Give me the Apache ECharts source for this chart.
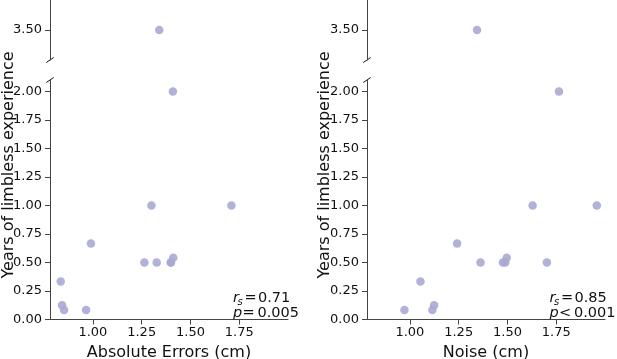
<!DOCTYPE html>
<html>
<head>
<meta charset="utf-8">
<script src="https://cdn.jsdelivr.net/npm/echarts@6/dist/echarts.min.js"></script>
<style>
html, body { margin: 0; background: #fff; }
#main { width: 617px; height: 359px; }
</style>
</head>
<body>
<div id="main"></div>
<script>
// data
var years   = [3.5, 2.0, 1.0, 1.0, 0.667, 0.5, 0.5, 0.5, 0.5, 0.542, 0.333, 0.125, 0.083, 0.083];
var absErr  = [1.34, 1.41, 1.30, 1.71, 0.99, 1.264, 1.327, 1.399, 1.40, 1.412, 0.835, 0.842, 0.852, 0.965];
var noise   = [1.344, 1.764, 1.629, 1.958, 1.242, 1.362, 1.477, 1.489, 1.702, 1.496, 1.054, 1.124, 0.972, 1.115];
var xTicks     = [1.00, 1.25, 1.50, 1.75];
var yTicksLow  = [0, 0.25, 0.5, 0.75, 1.0, 1.25, 1.5, 1.75, 2.0];
var yTicksHigh = [3.5];
var stats = [
    { rs: '0.71', op: '=', p: '0.005' },
    { rs: '0.85', op: '<', p: '0.001' }
];

var axisColor = '#444';
var font = 'DejaVu Sans';
var dotColor = '#aaa9d4';

function pts(xs, high) {
    var out = [];
    for (var i = 0; i < years.length; i++) {
        if ((years[i] > 3) === high) out.push([xs[i], years[i]]);
    }
    return out;
}

function xAx(idx, show, name) {
    return {
        type: 'value', gridIndex: idx, min: 0.78, max: 2.0, show: show,
        name: name, nameLocation: 'middle', nameGap: 17,
        nameTextStyle: { fontFamily: font, fontSize: 16, color: '#111' },
        axisLine: { onZero: false, lineStyle: { color: axisColor, width: 1 } },
        axisTick: { length: 5, lineStyle: { color: axisColor }, customValues: xTicks },
        axisLabel: { customValues: xTicks, margin: 7, fontFamily: font, fontSize: 13, color: '#111',
            formatter: function (v) { return v.toFixed(2); } },
        splitLine: { show: false }
    };
}

function yAx(idx, min, max, ticks) {
    return {
        type: 'value', gridIndex: idx, min: min, max: max,
        axisLine: { show: true, lineStyle: { color: axisColor, width: 1 } },
        axisTick: { show: true, length: 5, lineStyle: { color: axisColor }, customValues: ticks },
        axisLabel: { customValues: ticks, margin: 8, fontFamily: font, fontSize: 13, color: '#111',
            formatter: function (v) { return v.toFixed(2); } },
        splitLine: { show: false }
    };
}

function dots(idx, data) {
    return {
        type: 'scatter', xAxisIndex: idx, yAxisIndex: idx, data: data,
        symbolSize: 8.5, itemStyle: { color: dotColor, opacity: 0.9 }, silent: true
    };
}

var myChart = echarts.init(document.getElementById('main'));
myChart.setOption({
    animation: false,
    grid: [
        { left: 50, top: 0, width: 238, height: 60, outerBoundsMode: 'none' },
        { left: 50, top: 80, width: 238, height: 239.5, outerBoundsMode: 'none' },
        { left: 367, top: 0, width: 238, height: 60, outerBoundsMode: 'none' },
        { left: 367, top: 80, width: 238, height: 239.5, outerBoundsMode: 'none' }
    ],
    xAxis: [
        xAx(0, false), xAx(1, true, 'Absolute Errors (cm)'),
        xAx(2, false), xAx(3, true, 'Noise (cm)')
    ],
    yAxis: [
        yAx(0, 3.25, 3.75, yTicksHigh), yAx(1, 0, 2.1, yTicksLow),
        yAx(2, 3.25, 3.75, yTicksHigh), yAx(3, 0, 2.1, yTicksLow)
    ],
    series: [
        dots(0, pts(absErr, true)), dots(1, pts(absErr, false)),
        dots(2, pts(noise, true)), dots(3, pts(noise, false))
    ]
});

// axis break marks, y labels and stats text
var g = [];
function txt(x, y, t, size, italic) {
    g.push({ type: 'text', x: x, y: y, style: { text: t, fontFamily: font, fontSize: size,
        fontStyle: italic ? 'italic' : 'normal', fill: '#111', verticalAlign: 'middle' } });
}
[0, 2].forEach(function (gi, k) {
    var lo = myChart.convertToPixel({ gridIndex: gi }, [0.78, 3.25]);
    var hi = myChart.convertToPixel({ gridIndex: gi + 1 }, [0.78, 2.1]);
    [lo, hi].forEach(function (p) {
        g.push({ type: 'line', shape: { x1: p[0] - 3.7, y1: p[1] + 2.5, x2: p[0] + 3.7, y2: p[1] - 2.5 },
            style: { stroke: '#111', lineWidth: 1 } });
    });
    g.push({ type: 'text', x: k === 0 ? 9 : 325, y: 165, rotation: Math.PI / 2,
        style: { text: 'Years of limbless experience', fontFamily: font, fontSize: 16, fill: '#111',
            align: 'center', verticalAlign: 'middle' } });
    var x0 = k === 0 ? 233 : 549.5;
    var s = stats[k];
    txt(x0, 298, 'r', 14.5, true);
    txt(x0 + 4.5, 302, 's', 10, true);
    txt(x0 + 11.5, 298, '=', 14.5);
    txt(x0 + 25, 298, s.rs, 14.5);
    txt(x0, 313, 'p', 14.5, true);
    txt(x0 + 9.5, 313, s.op, 14.5);
    txt(x0 + 24.5, 313, s.p, 14.5);
});
myChart.setOption({ graphic: g });
</script>
</body>
</html>
